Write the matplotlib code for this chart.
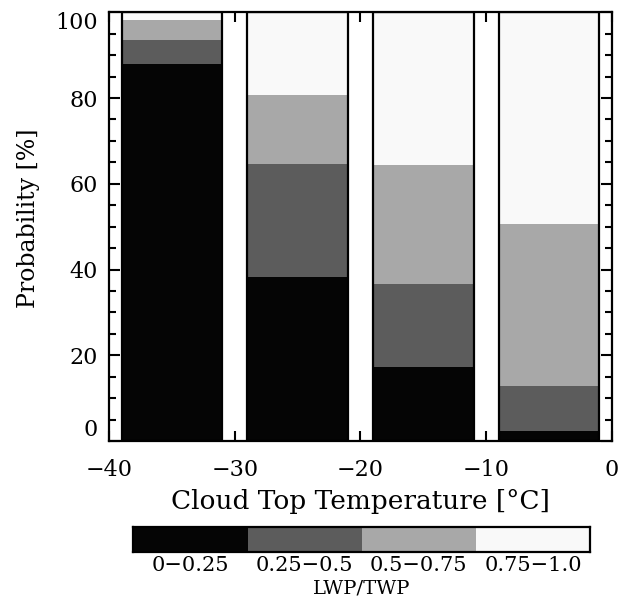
import numpy as np
import matplotlib
matplotlib.use("Agg")
import matplotlib.pyplot as plt
from matplotlib.ticker import MultipleLocator

# bins of cloud top temperature (bar centres) and LWP/TWP class probabilities [%]
temp_centers = [-35, -25, -15, -5]
bar_width = 8
xticks = [-40, -30, -20, -10, 0]
yticks = [0, 20, 40, 60, 80, 100]
classes = ["0\u22120.25", "0.25\u22120.5", "0.5\u22120.75", "0.75\u22121.0"]
p_0_025 = [88.0, 38.3, 17.2, 2.3]
p_025_05 = [5.6, 26.3, 19.4, 10.5]
p_05_075 = [4.6, 16.0, 27.8, 37.8]
p_075_1 = [1.8, 19.4, 35.6, 49.4]
colors = ["#050505", "#5c5c5c", "#a8a8a8", "#f9f9f9"]

serif = "DejaVu Serif"

fig = plt.figure(figsize=(6.19, 5.99), dpi=100)
ax = fig.add_axes([0.176, 0.2638, 0.8127, 0.7157])

series = [p_0_025, p_025_05, p_05_075, p_075_1]
bottom = np.zeros(len(temp_centers))
for vals, col in zip(series, colors):
    ax.bar(temp_centers, vals, width=bar_width, bottom=bottom, color=col,
           edgecolor="none", zorder=2)
    bottom += np.array(vals)
# black outline of each full bar
ax.bar(temp_centers, bottom, width=bar_width, facecolor="none",
       edgecolor="black", linewidth=1.6, zorder=3)

ax.set_xlim(-40, 0)
ax.set_ylim(0, 100)
ax.set_xticks(xticks)
ax.set_yticks(yticks)
ax.yaxis.set_minor_locator(MultipleLocator(5))
ax.tick_params(axis="both", which="both", direction="in", top=True, right=True,
               width=1.5, labelsize=16)
ax.tick_params(axis="y", which="major", length=8, pad=8)
ax.tick_params(axis="y", which="minor", length=5)
ax.tick_params(axis="x", which="major", length=7, pad=13)
for lab in ax.get_xticklabels() + ax.get_yticklabels():
    lab.set_family(serif)
# end labels pulled inside like the original
ylabs = ax.get_yticklabels()
ylabs[0].set_va("bottom")
ylabs[-1].set_va("top")
for s in ax.spines.values():
    s.set_linewidth(1.6)
    s.set_zorder(4)

ax.set_xlabel("Cloud Top Temperature [\u00b0C]", family=serif, fontsize=19, labelpad=6)
ax.set_ylabel("Probability [%]", family=serif, fontsize=17)
ax.yaxis.set_label_coords(-0.138, 0.52)

# colour key
cax = fig.add_axes([0.2154, 0.078, 0.7378, 0.0417])
cax.bar(range(4), 1, width=1, color=colors, edgecolor="none")
cax.set_xlim(-0.5, 3.5)
cax.set_ylim(0, 1)
cax.set_yticks([])
cax.set_xticks(range(4))
cax.set_xticklabels(classes, family=serif, fontsize=15)
cax.tick_params(axis="x", length=0, pad=3)
for s in cax.spines.values():
    s.set_linewidth(1.6)
cax.set_xlabel("LWP/TWP", family=serif, fontsize=14, labelpad=3)

fig.savefig("out.png", dpi=100)
